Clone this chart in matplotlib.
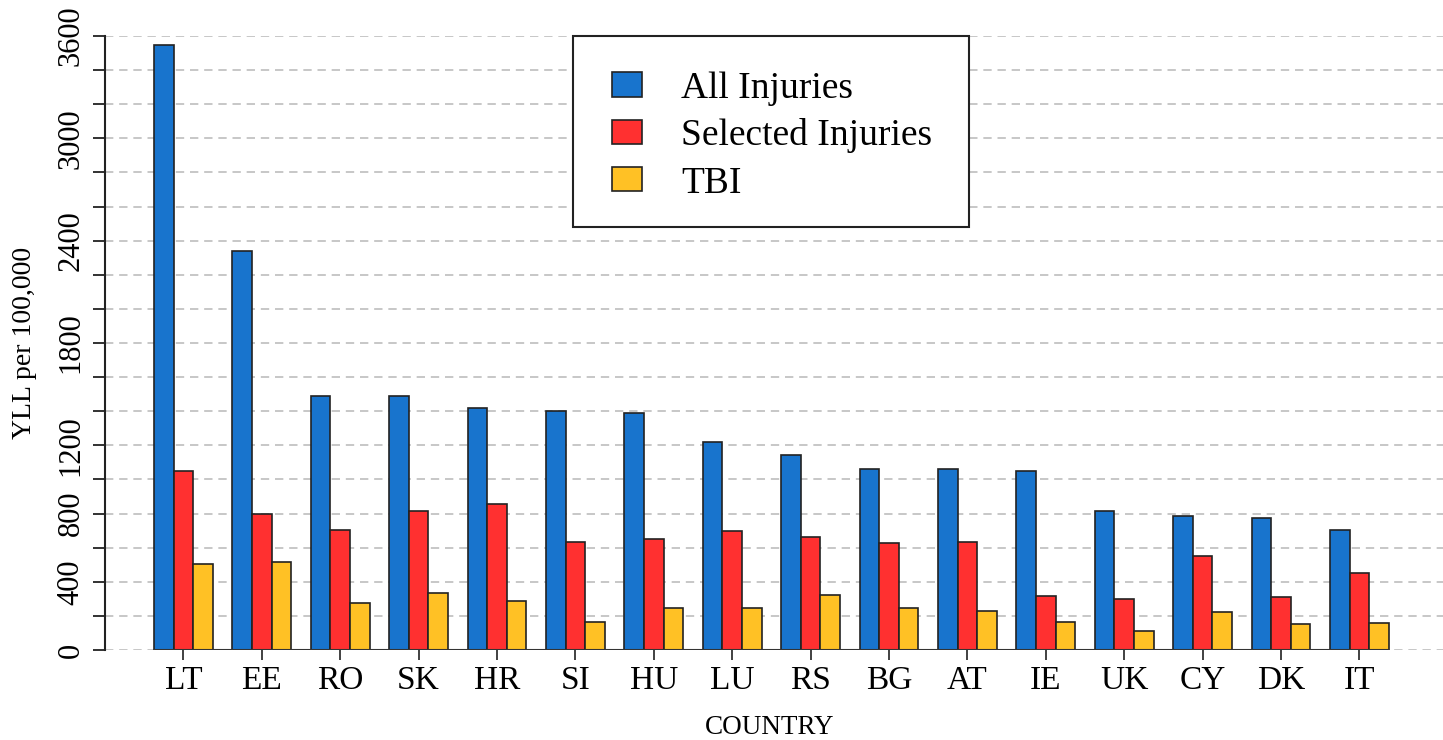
import numpy as np
import matplotlib
matplotlib.use("Agg")
import matplotlib.pyplot as plt
from matplotlib.patches import Rectangle

# data (YLL per 100,000)
countries = ["LT", "EE", "RO", "SK", "HR", "SI", "HU", "LU",
             "RS", "BG", "AT", "IE", "UK", "CY", "DK", "IT"]
all_injuries = [3550, 2340, 1492, 1492, 1420, 1402, 1390, 1217,
                1146, 1064, 1064, 1049, 816, 786, 774, 702]
selected_injuries = [1048, 800, 704, 814, 855, 636, 649, 699,
                     665, 630, 636, 318, 297, 552, 312, 453]
tbi = [502, 518, 278, 332, 289, 167, 249, 249,
       320, 249, 230, 165, 110, 220, 152, 159]
series_names = ["All Injuries", "Selected Injuries", "TBI"]
colors = ["#1874CD", "#FF3030", "#FFC125"]
y_ticks = list(range(0, 3601, 200))
y_labelled = [0, 400, 800, 1200, 1800, 2400, 3000, 3600]

plt.rcParams['font.family'] = ['Liberation Serif', 'DejaVu Serif']

W, H = 1443, 740
fig = plt.figure(figsize=(W / 100, H / 100), dpi=100)
# axes placed in pixel terms: y-axis at x=105, zero at y=650, 3600 at y=36
ax = fig.add_axes([105 / W, (H - 650) / H, (W - 105) / W, 614 / H])

x = np.arange(len(countries)) * 4  # three bars + one gap per group
for j, (vals, c) in enumerate(zip([all_injuries, selected_injuries, tbi], colors)):
    ax.bar(x + j, vals, width=1.0, color=c, edgecolor="#222222",
           linewidth=1.2, zorder=3)

ax.hlines(0, x[0] - 0.5, x[-1] + 2.5, color="#333333", lw=1.5, zorder=4)

ax.set_xlim(-3.0, 65.27)
ax.set_ylim(0, 3600)

ax.set_yticks(y_ticks)
ax.set_yticklabels([str(v) if v in y_labelled else "" for v in y_ticks],
                   rotation=90, va="center", fontsize=22)
ax.set_xticks(x + 1)
ax.set_xticklabels(countries, fontsize=24)
ax.tick_params(axis="y", length=8.6, width=1.3, pad=5.5, color="#222222")
ax.tick_params(axis="x", length=7.5, width=1.3, pad=4, color="#333333")

ax.set_axisbelow(True)
ax.yaxis.grid(True, linestyle=(0, (5, 3.5)), color="#BEBEBE", lw=1.2)

for s in ["top", "right", "bottom"]:
    ax.spines[s].set_visible(False)
ax.spines["left"].set_bounds(0, 3600)
ax.spines["left"].set_linewidth(1.5)
ax.spines["left"].set_color("#222222")

fig.text(770 / W, 1 - 728 / H, "COUNTRY", ha="center", va="center", fontsize=19.5)
fig.text(25 / W, 1 - 343 / H, "YLL per 100,000", ha="center", va="center",
         rotation=90, fontsize=20)

# legend box drawn by hand to match the original layout
def px(xp, yp):
    return xp / W, 1 - yp / H

fx, fy = px(573, 227)
fig.add_artist(Rectangle((fx, fy), (969 - 573) / W, (227 - 36) / H,
                         transform=fig.transFigure, facecolor="white",
                         edgecolor="#222222", lw=1.5, zorder=10))
rows = [(72, 97, 98), (120, 144, 145), (167, 191, 193)]
for (top, bot, base), name, c in zip(rows, series_names, colors):
    rx, ry = px(612, bot)
    fig.add_artist(Rectangle((rx, ry), 30 / W, (bot - top) / H,
                             transform=fig.transFigure, facecolor=c,
                             edgecolor="#222222", lw=1.2, zorder=11))
    tx, ty = px(681, base)
    fig.text(tx, ty, name, ha="left", va="baseline", fontsize=27, zorder=12)

fig.savefig("out.png", dpi=100)
